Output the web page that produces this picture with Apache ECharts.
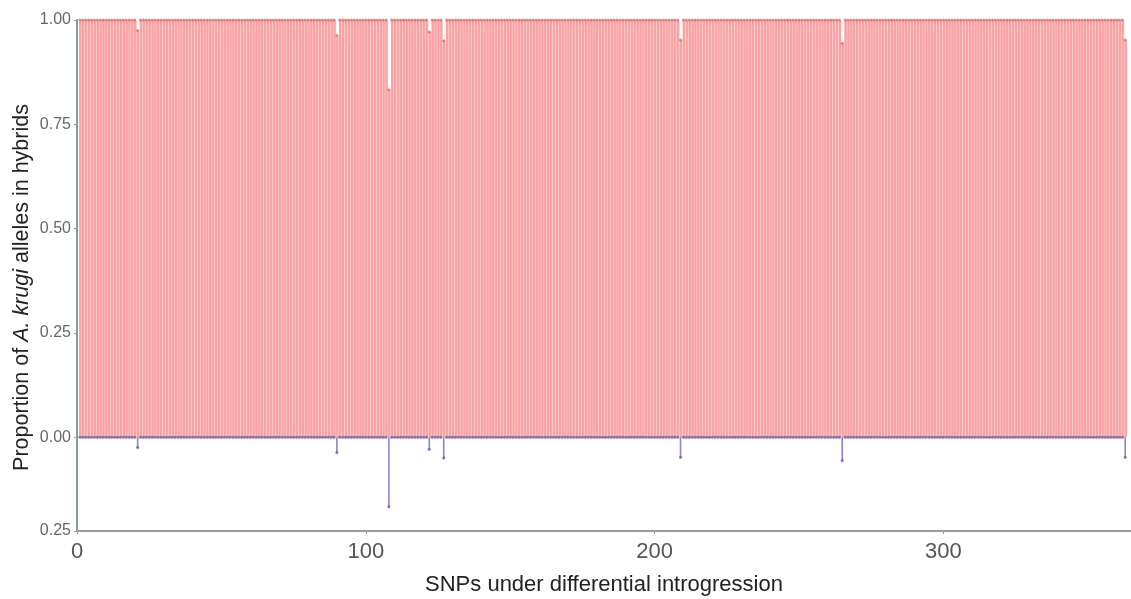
<!DOCTYPE html>
<html>
<head>
<meta charset="utf-8">
<script src="https://cdn.jsdelivr.net/npm/echarts@6/dist/echarts.min.js"></script>
<style>
html,body{margin:0;padding:0;background:#fff;}
#c{width:1131px;height:599px;}
</style>
</head>
<body>
<div id="c"></div>
<script>
// Proportion of A. krugi alleles in hybrids, SNPs 1..363 (rows of 10)
const snpProportion = [
  1,1,1,1,1,1,1,1,1,1,
  1,1,1,1,1,1,1,1,1,1,
  0.975,1,1,1,1,1,1,1,1,1,
  1,1,1,1,1,1,1,1,1,1,
  1,1,1,1,1,1,1,1,1,1,
  1,1,1,1,1,1,1,1,1,1,
  1,1,1,1,1,1,1,1,1,1,
  1,1,1,1,1,1,1,1,1,1,
  1,1,1,1,1,1,1,1,1,0.963,
  1,1,1,1,1,1,1,1,1,1,
  1,1,1,1,1,1,1,0.833,1,1,
  1,1,1,1,1,1,1,1,1,1,
  1,0.971,1,1,1,1,0.95,1,1,1,
  1,1,1,1,1,1,1,1,1,1,
  1,1,1,1,1,1,1,1,1,1,
  1,1,1,1,1,1,1,1,1,1,
  1,1,1,1,1,1,1,1,1,1,
  1,1,1,1,1,1,1,1,1,1,
  1,1,1,1,1,1,1,1,1,1,
  1,1,1,1,1,1,1,1,1,1,
  1,1,1,1,1,1,1,1,0.952,1,
  1,1,1,1,1,1,1,1,1,1,
  1,1,1,1,1,1,1,1,1,1,
  1,1,1,1,1,1,1,1,1,1,
  1,1,1,1,1,1,1,1,1,1,
  1,1,1,1,1,1,1,1,1,1,
  1,1,1,1,0.944,1,1,1,1,1,
  1,1,1,1,1,1,1,1,1,1,
  1,1,1,1,1,1,1,1,1,1,
  1,1,1,1,1,1,1,1,1,1,
  1,1,1,1,1,1,1,1,1,1,
  1,1,1,1,1,1,1,1,1,1,
  1,1,1,1,1,1,1,1,1,1,
  1,1,1,1,1,1,1,1,1,1,
  1,1,1,1,1,1,1,1,1,1,
  1,1,1,1,1,1,1,1,1,1,
  1,1,0.952
];
// Proportion of the other parental alleles (drawn downward)
const otherProportion = snpProportion.map(v => +(1 - v).toFixed(3));

const xTickValues = [0, 100, 200, 300];
const yTickValues = [-0.225, 0, 0.25, 0.5, 0.75, 1];
const yTickLabels = ['0.25', '0.00', '0.25', '0.50', '0.75', '1.00'];

const pinkData = snpProportion.map((v, i) => [i + 1, v]);
const blueData = otherProportion.map((v, i) => [i + 1, -v]);

const FONT = 'Liberation Sans, Arial, sans-serif';
const chart = echarts.init(document.getElementById('c'), null, {renderer: 'canvas'});
chart.setOption({
  animation: false,
  backgroundColor: '#ffffff',
  grid: {left: 77, right: 0, top: 20, bottom: 68, containLabel: false, outerBoundsMode: 'none'},
  xAxis: {
    type: 'value', min: 0, max: 365,
    name: 'SNPs under differential introgression',
    nameLocation: 'middle', nameGap: 43, nameMoveOverlap: false,
    nameTextStyle: {fontSize: 22, color: '#222', fontFamily: FONT},
    axisLine: {onZero: false, lineStyle: {color: '#9a9a9a', width: 2}},
    axisTick: {show: true, length: 3, customValues: xTickValues, lineStyle: {color: '#999'}},
    axisLabel: {customValues: xTickValues, fontSize: 22, color: '#555', margin: 10, fontFamily: FONT},
    splitLine: {show: false}
  },
  yAxis: {
    type: 'value', min: -0.225, max: 1,
    name: '{n|Proportion of }{i|A. krugi}{n| alleles in hybrids}',
    nameLocation: 'middle', nameGap: 44, nameRotate: 90, nameMoveOverlap: false,
    nameTextStyle: {
      padding: [0, 24, 0, 0],
      rich: {
        n: {fontSize: 21.5, color: '#222', fontFamily: FONT},
        i: {fontSize: 21.5, color: '#222', fontStyle: 'italic', fontFamily: FONT}
      }
    },
    axisLine: {show: true, lineStyle: {color: '#8a9b9b', width: 2}},
    axisTick: {show: true, length: 3, customValues: yTickValues, lineStyle: {color: '#999'}},
    axisLabel: {
      customValues: yTickValues, fontSize: 16, color: '#666', margin: 6, fontFamily: FONT,
      formatter: v => {
        const k = yTickValues.findIndex(t => Math.abs(t - v) < 1e-6);
        return k >= 0 ? yTickLabels[k] : '';
      }
    },
    splitLine: {show: false}
  },
  series: [
    {
      type: 'bar', data: pinkData, barWidth: 2.6, barGap: '-100%',
      itemStyle: {color: '#f9a4a4'}, silent: true
    },
    {
      type: 'bar', data: blueData, barWidth: 1.6, barGap: '-100%',
      itemStyle: {color: '#8585d6'}, silent: true
    },
    {
      type: 'scatter', data: blueData, symbolSize: 3,
      itemStyle: {color: '#5a5aa8'}, silent: true
    },
    {
      type: 'scatter', data: pinkData, symbolSize: 3,
      itemStyle: {color: '#e26a6a'}, silent: true
    }
  ]
});
</script>
</body>
</html>
